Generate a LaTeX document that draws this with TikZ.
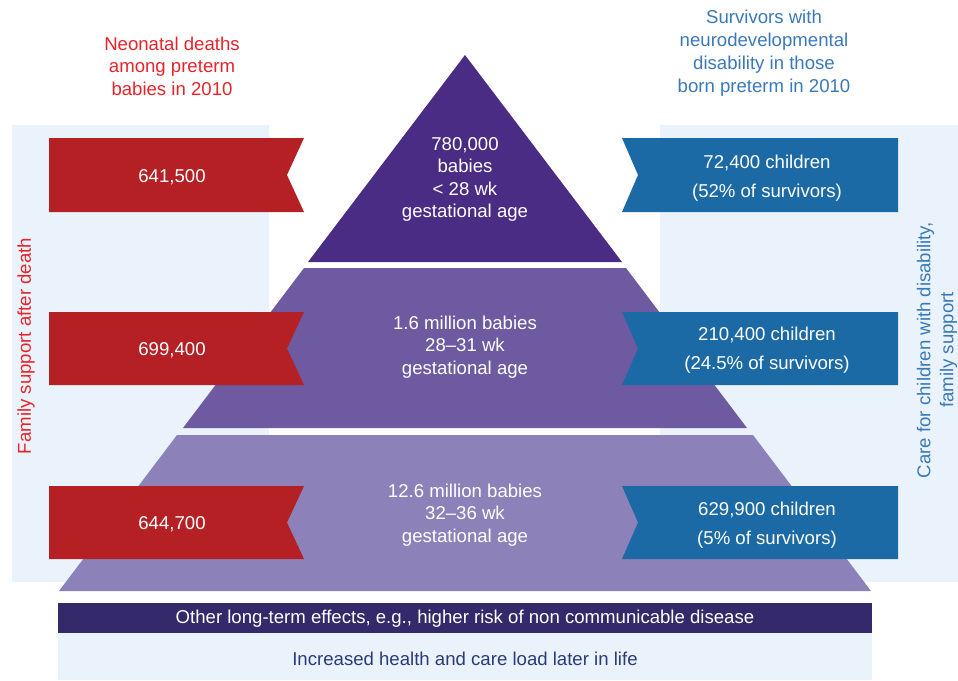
\documentclass[tikz,border=0pt]{standalone}
\usepackage{fontspec}
\setmainfont{Liberation Sans}
\usepackage{xcolor}

\definecolor{panelblue}{HTML}{EAF3FB}
\definecolor{deathred}{HTML}{B52025}
\definecolor{labelred}{HTML}{E8242B}
\definecolor{careblue}{HTML}{1B6AA6}
\definecolor{labelblue}{HTML}{3A79B8}
\definecolor{topviolet}{HTML}{4A2C84}
\definecolor{midviolet}{HTML}{6D5AA0}
\definecolor{lowviolet}{HTML}{8C82B9}
\definecolor{barnavy}{HTML}{33296B}
\definecolor{loadnavy}{HTML}{2B3A7A}

\begin{document}
\begin{tikzpicture}[x=1pt,y=-1pt,font=\fontsize{18.6}{22.5}\selectfont,
  level text/.style={text=white,align=center},
  death band/.style={fill=deathred},
  care band/.style={fill=careblue},
  death text/.style={text=white},
  care text/.style={text=white,align=center,font=\fontsize{18.6}{29}\selectfont}]

  \useasboundingbox (0,0) rectangle (958,680);

  % panels behind
  \fill[panelblue] (12,125) rectangle (269,582);
  \fill[panelblue] (660,125) rectangle (958,582);
  \fill[panelblue] (58,633) rectangle (872,680);

  % pyramid
  \fill[topviolet] (465,55) -- (622,262) -- (308,262) -- cycle;
  \fill[midviolet] (304,268) -- (626,268) -- (747,428) -- (183,428) -- cycle;
  \fill[lowviolet] (177,435) -- (753,435) -- (871,591) -- (59,591) -- cycle;
  \fill[barnavy] (58,603) rectangle (872,633);

  % ribbons, deaths
  \fill[death band] (49,138) -- (304,138) -- (287,175) -- (304,212) -- (49,212) -- cycle;
  \fill[death band] (49,312) -- (304,312) -- (287,348.5) -- (304,385) -- (49,385) -- cycle;
  \fill[death band] (49,486) -- (304,486) -- (287,522.5) -- (304,559) -- (49,559) -- cycle;

  % ribbons, survivors
  \fill[care band] (622,138) -- (898,138) -- (898,212) -- (622,212) -- (638,175) -- cycle;
  \fill[care band] (622,312) -- (898,312) -- (898,385) -- (622,385) -- (638,348.5) -- cycle;
  \fill[care band] (622,486) -- (898,486) -- (898,559) -- (622,559) -- (638,522.5) -- cycle;

  \node[text=labelred,align=center] (deathlabel) at (172,66) {Neonatal deaths\\among preterm\\babies in 2010};
  \node[text=labelblue,align=center,font=\fontsize{18.6}{23}\selectfont] (carelabel) at (764,53)
    {Survivors with\\neurodevelopmental\\disability in those\\born preterm in 2010};

  \node[level text] (top) at (465,179.5) {780,000\\babies\\< 28 wk\\gestational age};
  \node[level text] (mid) at (465,347) {1.6 million babies\\28–31 wk\\gestational age};
  \node[level text] (low) at (465,515) {12.6 million babies\\32–36 wk\\gestational age};

  \node[death text] (d1) at (172,177) {641,500};
  \node[death text] (d2) at (172,350.5) {699,400};
  \node[death text] (d3) at (172,524.5) {644,700};

  \node[care text] (c1) at (767,178.5) {72,400 children\\(52\% of survivors)};
  \node[care text] (c2) at (767,350) {210,400 children\\(24.5\% of survivors)};
  \node[care text] (c3) at (767,525) {629,900 children\\(5\% of survivors)};

  \node[text=labelred,rotate=90] (famsupport) at (26,346) {Family support after death};
  \node[text=labelblue,rotate=90,align=center,font=\fontsize{18.6}{23}\selectfont] (caresupport) at (937,350)
    {Care for children with disability,\\family support};

  \node[text=white] (effects) at (465,619) {Other long-term effects, e.g., higher risk of non communicable disease};
  \node[text=loadnavy] (load) at (465,659) {Increased health and care load later in life};
\end{tikzpicture}
\end{document}
